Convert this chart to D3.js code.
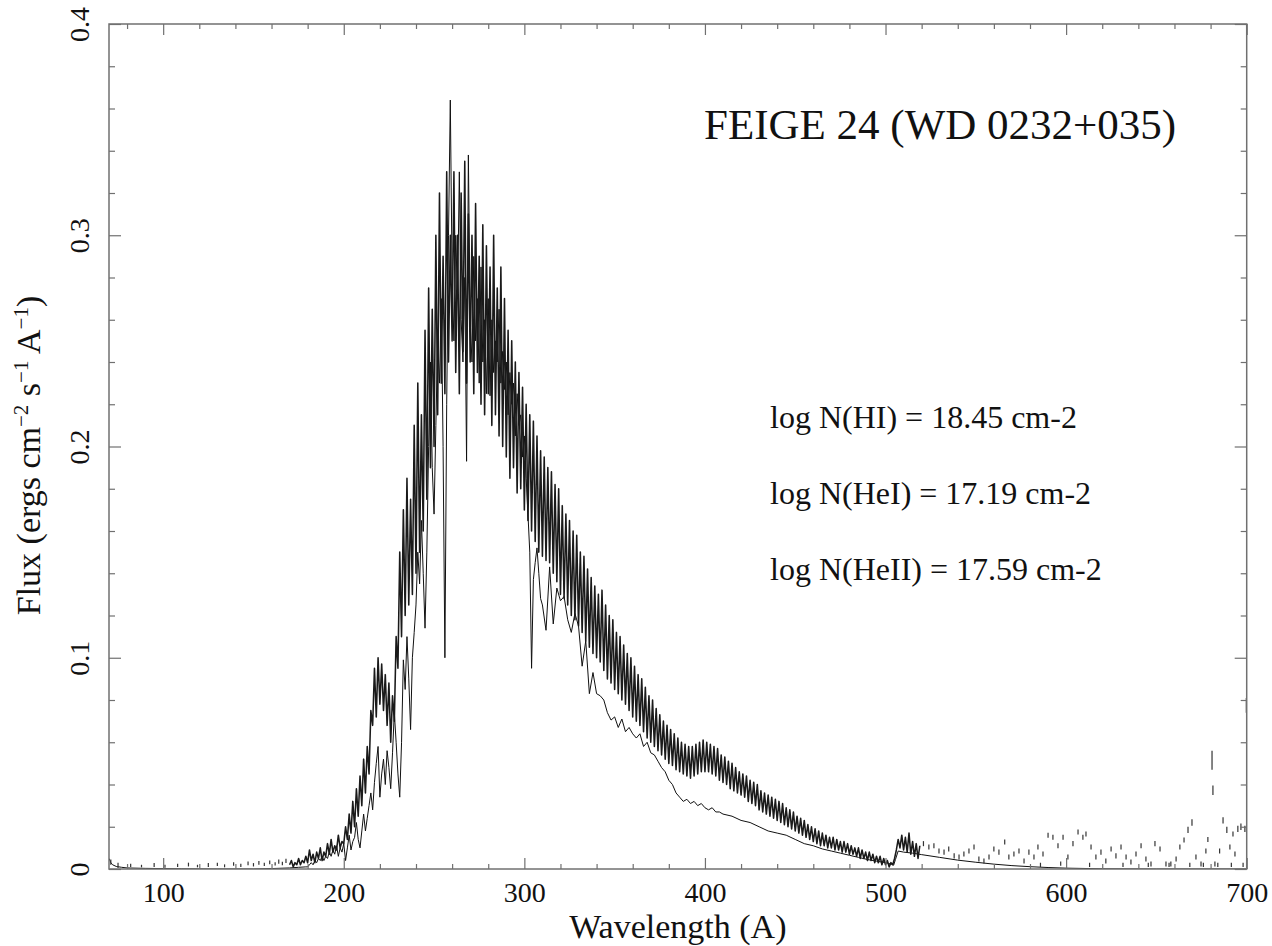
<!DOCTYPE html>
<html>
<head>
<meta charset="utf-8">
<script src="https://cdn.jsdelivr.net/npm/d3@7"></script>
<style>
  html, body { margin: 0; padding: 0; background: #fff; }
  svg { display: block; }
  text { font-family: "Liberation Serif", "Times New Roman", serif; fill: #111; }
</style>
</head>
<body>
<svg id="chart" width="1272" height="946"></svg>
<script>
// ---------------- data ----------------
const xDomain = [70, 700];
const yDomain = [0, 0.4];
const xMajorTicks = [100, 200, 300, 400, 500, 600, 700];
const xMinorTicks = [80,120,140,160,180,220,240,260,280,320,340,360,380,420,440,460,480,520,540,560,580,620,640,660,680];
const yMajorTicks = [0, 0.1, 0.2, 0.3, 0.4];
const yTickLabels = ["0", "0.1", "0.2", "0.3", "0.4"];
const yMinorTicks = [0.02,0.04,0.06,0.08,0.12,0.14,0.16,0.18,0.22,0.24,0.26,0.28,0.32,0.34,0.36,0.38];

const titleText = "FEIGE 24 (WD 0232+035)";
const annotations = ["log N(HI) = 18.45 cm-2", "log N(HeI) = 17.19 cm-2", "log N(HeII) = 17.59 cm-2"];

// observed EUVE spectrum, 1 A grid starting at 170 A
const obsStart = 170;
const obsFlux = [
0.002,0.004,0.001,0.003,0.002,0.005,0.002,0.004,0.003,0.006,
0.003,0.009,0.004,0.007,0.003,0.008,0.005,0.010,0.004,0.008,
0.006,0.012,0.007,0.014,0.008,0.011,0.009,0.016,0.010,0.013,
0.012,0.020,0.014,0.026,0.017,0.032,0.020,0.038,0.025,0.044,
0.030,0.052,0.036,0.058,0.045,0.075,0.068,0.095,0.072,0.100,
0.078,0.097,0.075,0.092,0.068,0.088,0.060,0.082,0.070,0.110,
0.095,0.150,0.110,0.170,0.120,0.185,0.125,0.175,0.130,0.210,
0.140,0.230,0.150,0.215,0.160,0.255,0.175,0.275,0.190,0.265,
0.200,0.300,0.215,0.320,0.230,0.290,0.225,0.330,0.240,0.300,
0.250,0.330,0.235,0.300,0.225,0.320,0.245,0.335,0.230,0.310,
0.240,0.300,0.225,0.315,0.235,0.290,0.220,0.305,0.215,0.295,
0.225,0.285,0.210,0.300,0.215,0.275,0.205,0.285,0.200,0.270,
0.195,0.255,0.185,0.250,0.190,0.240,0.178,0.235,0.180,0.228,
0.170,0.220,0.165,0.215,0.160,0.212,0.155,0.205,0.150,0.198,
0.148,0.195,0.146,0.190,0.145,0.188,0.140,0.182,0.136,0.180,
0.130,0.172,0.128,0.168,0.125,0.165,0.120,0.160,0.118,0.158,
0.115,0.150,0.112,0.148,0.108,0.142,0.105,0.138,0.102,0.134,
0.100,0.130,0.098,0.132,0.094,0.125,0.090,0.120,0.088,0.118,
0.085,0.112,0.083,0.110,0.080,0.106,0.078,0.102,0.075,0.100,
0.072,0.096,0.070,0.092,0.068,0.090,0.065,0.086,0.062,0.082,
0.060,0.080,0.058,0.076,0.056,0.073,0.054,0.070,0.052,0.068,
0.050,0.066,0.049,0.064,0.047,0.062,0.046,0.060,0.045,0.059,
0.044,0.058,0.043,0.058,0.044,0.059,0.045,0.060,0.046,0.061,
0.046,0.060,0.046,0.059,0.045,0.058,0.044,0.057,0.042,0.054,
0.041,0.053,0.040,0.051,0.038,0.050,0.037,0.048,0.036,0.046,
0.035,0.045,0.034,0.044,0.032,0.042,0.031,0.041,0.030,0.040,
0.028,0.037,0.027,0.036,0.026,0.035,0.025,0.034,0.024,0.033,
0.023,0.032,0.022,0.031,0.021,0.029,0.020,0.028,0.019,0.027,
0.018,0.025,0.017,0.024,0.016,0.023,0.015,0.021,0.014,0.020,
0.013,0.019,0.012,0.018,0.011,0.017,0.011,0.016,0.010,0.015,
0.010,0.015,0.009,0.014,0.009,0.013,0.008,0.013,0.008,0.012,
0.007,0.011,0.007,0.010,0.006,0.010,0.005,0.009,0.005,0.008,
0.004,0.008,0.004,0.007,0.003,0.006,0.003,0.006,0.002,0.005,
0.002,0.004,0.001,0.003,0.002,0.005,0.009,0.014,0.010,0.016,
0.009,0.015,0.008,0.017,0.007,0.013,0.006,0.012,0.005,0.011
];

// sparse observed points (drawn as short dashes): wavelength, low, high
const dashWave = [71,75,82,88,95,101,108,114,119,125,130,134,139,143,147,150,153,156,159,162,164,166,168,
  521,524,526.8,529.6,532.4,535,538,540.7,543.4,546.2,549,551.7,554.5,557.3,560,562.8,566,568.3,571.1,573.9,
  576.7,579.4,582.2,584.4,585.8,587.2,590,592.7,595.5,597,598.3,601,603.8,606.6,609.3,611,613,613.8,616.5,619.3,
  622,624.9,627.6,630.4,631.5,633.2,635.9,638.7,641.5,644.2,645.5,647,649.2,652,655.3,657,658,660.9,663,665.3,
  667.5,668.5,669.7,671.9,674.7,676,677.4,678.5,680.8,681.3,682.4,684,685,686.9,689,690.7,691.5,692.4,693.5,
  695.1,696.8,698,699,699.8];
const dashLo = [0.002,0.0005,0.001,0.0008,0.001,0.0006,0.001,0.0012,0.0008,0.001,0.0014,0.0008,0.0015,0.001,0.0018,0.0012,0.002,0.0014,0.0022,0.0016,0.0025,0.0018,0.0028,
  0.0108,0.0092,0.0098,0.0073,0.0068,0.0083,0.005,0.0045,0.0059,0.0073,0.0092,0.0035,0.0026,0.0045,0.0083,0.0068,0.0116,0.0045,0.0059,0.0073,
  0.0026,0.0068,0.0045,0.0092,0.001,0.0059,0.0148,0.0138,0.0098,0.0015,0.0138,0.0045,0.0108,0.0163,0.0138,0.0154,0.001,0.0092,0.0045,0.0068,
  0.0026,0.0083,0.005,0.0092,0.001,0.0045,0.0021,0.0059,0.0098,0.0035,0.001,0.0012,0.0108,0.0083,0.0012,0.001,0.0012,0.0035,0.0092,0.0125,
  0.017,0.001,0.0205,0.0045,0.0012,0.001,0.0073,0.0128,0.047,0.035,0.0012,0.001,0.0073,0.0215,0.017,0.0092,0.001,0.0154,0.0059,
  0.0175,0.0185,0.001,0.0175,0.074];
const dashHi = [0.0045,0.003,0.0025,0.002,0.0028,0.002,0.0025,0.003,0.002,0.0028,0.003,0.0022,0.0032,0.0025,0.0035,0.0028,0.0038,0.003,0.004,0.0032,0.0045,0.0034,0.0048,
  0.0132,0.0116,0.0122,0.0097,0.0092,0.0107,0.0074,0.0069,0.0083,0.0097,0.0116,0.0059,0.005,0.0069,0.0107,0.0092,0.014,0.0069,0.0083,0.0097,
  0.005,0.0092,0.0069,0.0116,0.003,0.0083,0.0172,0.0162,0.0122,0.0035,0.0162,0.0069,0.0132,0.0187,0.0162,0.0178,0.003,0.0116,0.0069,0.0092,
  0.005,0.0107,0.0074,0.0116,0.003,0.0069,0.0045,0.0083,0.0122,0.0059,0.003,0.0036,0.0132,0.0107,0.0036,0.003,0.0036,0.0059,0.0116,0.0149,
  0.02,0.003,0.0235,0.0069,0.0036,0.003,0.0097,0.0152,0.056,0.0395,0.0036,0.003,0.0097,0.0245,0.02,0.0116,0.003,0.0178,0.0083,
  0.0205,0.0215,0.003,0.0205,0.081];

// model spectrum (ISM absorbed)
const modelHeadWave = [70,71,72,74,77,80,90,110,130,150,160,170,175,179];
const modelHeadFlux = [0.005,0.003,0.002,0.0012,0.0008,0.0005,0.0003,0.0001,0,0,0.0002,0.0005,0.0008,0.001];
const modelGridStart = 180;
const modelGridFlux = [
0.001,0.002,0.003,0.002,0.004,0.003,0.005,0.004,0.006,0.004,
0.006,0.005,0.008,0.006,0.009,0.007,0.011,0.006,0.010,0.008,
0.012,0.004,0.010,0.016,0.009,0.013,0.015,0.022,0.014,0.010,
0.018,0.026,0.018,0.024,0.030,0.036,0.028,0.041,0.050,0.058,
0.034,0.045,0.052,0.040,0.056,0.048,0.038,0.055,0.074,0.060,
0.045,0.034,0.060,0.099,0.085,0.110,0.090,0.066,0.100,0.112,
0.125,0.150,0.135,0.165,0.140,0.114,0.150,0.200,0.240,0.190,
0.168,0.210,0.250,0.230,0.270,0.200,0.100,0.220,0.300,0.364,
0.280,0.250,0.300,0.270,0.330,0.260,0.240,0.280,0.193,0.338,
0.260,0.240,0.290,0.250,0.270,0.230,0.285,0.240,0.260,0.225,
0.270,0.224,0.260,0.235,0.250,0.240,0.265,0.230,0.245,0.227,
0.240,0.215,0.235,0.220,0.230,0.205,0.225,0.210,0.215,0.195,
0.205,0.185,0.168,0.150,0.095,0.137,0.145,0.152,0.140,0.128
];
const modelTailWave = [310,312,314,316,318,320,322,324,326,328,330,332,334,336,338,340,342,344,346,348,
  350,352,354,356,358,360,362,364,366,368,370,372,374,376,378,380,382,384,386,388,
  390,392,394,396,398,400,402,404,406,408,410,
  415,420,425,430,435,440,445,450,455,460,465,470,475,480,485,490,495,500,
  502,503.5,504.5,505.5,507,510,515,520,530,540,550,560,570,580,590,600,620,650,700];
const modelTailFlux = [0.125,0.113,0.143,0.116,0.133,0.127,0.129,0.118,0.112,0.121,0.115,0.096,0.108,0.083,0.093,0.083,0.082,0.080,0.074,0.0705,
  0.072,0.067,0.071,0.065,0.067,0.064,0.062,0.064,0.058,0.060,0.055,0.054,0.051,0.048,0.046,0.042,0.040,0.036,0.034,0.032,
  0.033,0.031,0.032,0.030,0.031,0.029,0.028,0.029,0.027,0.027,0.026,
  0.025,0.023,0.022,0.020,0.018,0.017,0.016,0.014,0.012,0.011,0.0095,0.0085,0.0075,0.0065,0.0055,0.0045,0.0037,0.003,
  0.0026,0.0022,0.0018,0.0045,0.0085,0.008,0.0075,0.0068,0.0055,0.0042,0.0032,0.0023,0.0016,0.0011,0.0007,0.0004,0.0001,0,0];

// ---------------- layout ----------------
const W = 1272, H = 946;
const margin = { left: 109, right: 25.3, top: 24, bottom: 77 };
const pw = W - margin.left - margin.right;
const ph = H - margin.top - margin.bottom;
const axisColor = "#707070";
const fontFamily = '"Liberation Serif", "Times New Roman", serif';

const svg = d3.select("#chart");
const g = svg.append("g").attr("transform", `translate(${margin.left},${margin.top})`);

const x = d3.scaleLinear().domain(xDomain).range([0, pw]);
const y = d3.scaleLinear().domain(yDomain).range([ph, 0]);

svg.append("defs").append("clipPath").attr("id", "clip")
  .append("rect").attr("x", 0).attr("y", -1).attr("width", pw).attr("height", ph + 1);

// build series
const obsData = obsFlux.map((f, i) => [obsStart + i, f]);
const modelData = modelHeadWave.map((w, i) => [w, modelHeadFlux[i]])
  .concat(modelGridFlux.map((f, i) => [modelGridStart + i, f]))
  .concat(modelTailWave.map((w, i) => [w, modelTailFlux[i]]));
const dashData = dashWave.map((w, i) => ({ w, lo: dashLo[i], hi: dashHi[i] }));

const line = d3.line().x(d => x(d[0])).y(d => y(d[1]));

const plot = g.append("g").attr("clip-path", "url(#clip)");

plot.append("path").datum(modelData)
  .attr("d", line).attr("fill", "none")
  .attr("stroke", "#111").attr("stroke-width", 1.0).attr("stroke-linejoin", "round");

plot.append("path").datum(obsData)
  .attr("d", line).attr("fill", "none")
  .attr("stroke", "#1a1a1a").attr("stroke-width", 1.55).attr("stroke-linejoin", "round");

plot.selectAll("line.dash").data(dashData).enter().append("line")
  .attr("class", "dash")
  .attr("x1", d => x(d.w)).attr("x2", d => x(d.w))
  .attr("y1", d => y(d.lo)).attr("y2", d => y(d.hi))
  .attr("stroke", "#333").attr("stroke-width", 1.2);

// ---------------- axes ----------------
function styleAxis(sel) {
  sel.select(".domain").remove();
  sel.selectAll(".tick line").attr("stroke", axisColor).attr("stroke-width", 1.2);
}

// bottom
const gb = g.append("g").attr("transform", `translate(0,${ph})`)
  .call(d3.axisBottom(x).tickValues(xMajorTicks).tickSize(-11).tickSizeOuter(0).tickFormat(d3.format("d")));
styleAxis(gb);
gb.attr("font-family", null).attr("font-size", null);
gb.selectAll(".tick text")
  .attr("y", 33).attr("dy", 0)
  .style("font-family", fontFamily).style("font-size", "28px").attr("fill", "#111");
g.append("g").attr("transform", `translate(0,${ph})`)
  .call(d3.axisBottom(x).tickValues(xMinorTicks).tickSize(-5).tickSizeOuter(0).tickFormat(""))
  .call(styleAxis);

// top
g.append("g").call(d3.axisTop(x).tickValues(xMajorTicks).tickSize(-11).tickSizeOuter(0).tickFormat("")).call(styleAxis);
g.append("g").call(d3.axisTop(x).tickValues(xMinorTicks).tickSize(-5).tickSizeOuter(0).tickFormat("")).call(styleAxis);

// left
const gl = g.append("g")
  .call(d3.axisLeft(y).tickValues(yMajorTicks).tickSize(-12).tickSizeOuter(0).tickFormat((d, i) => yTickLabels[i]));
styleAxis(gl);
gl.attr("font-family", null).attr("font-size", null);
gl.selectAll(".tick text")
  .attr("x", null).attr("dy", null)
  .attr("text-anchor", "middle")
  .attr("transform", "translate(-20,0) rotate(-90)")
  .style("font-family", fontFamily).style("font-size", "28px").attr("fill", "#111");
g.append("g").call(d3.axisLeft(y).tickValues(yMinorTicks).tickSize(-6).tickSizeOuter(0).tickFormat("")).call(styleAxis);

// right
g.append("g").attr("transform", `translate(${pw},0)`)
  .call(d3.axisRight(y).tickValues(yMajorTicks).tickSize(-12).tickSizeOuter(0).tickFormat("")).call(styleAxis);
g.append("g").attr("transform", `translate(${pw},0)`)
  .call(d3.axisRight(y).tickValues(yMinorTicks).tickSize(-6).tickSizeOuter(0).tickFormat("")).call(styleAxis);

// frame
g.append("rect").attr("x", 0).attr("y", 0).attr("width", pw).attr("height", ph)
  .attr("fill", "none").attr("stroke", axisColor).attr("stroke-width", 1.5);

// ---------------- labels ----------------
svg.append("text")
  .attr("x", margin.left + pw / 2).attr("y", 938)
  .attr("text-anchor", "middle")
  .style("font-size", "34px")
  .text("Wavelength (A)");

const yt = svg.append("text")
  .attr("transform", `translate(40,${margin.top + ph / 2 + 9}) rotate(-90)`)
  .attr("text-anchor", "middle")
  .style("font-size", "34px");
yt.append("tspan").text("Flux (ergs cm");
yt.append("tspan").attr("dy", -12).style("font-size", "21px").text("\u22122");
yt.append("tspan").attr("dy", 12).text(" s");
yt.append("tspan").attr("dy", -12).style("font-size", "21px").text("\u22121");
yt.append("tspan").attr("dy", 12).text(" A");
yt.append("tspan").attr("dy", -12).style("font-size", "21px").text("\u22121");
yt.append("tspan").attr("dy", 12).text(")");

svg.append("text")
  .attr("x", 704).attr("y", 139)
  .style("font-size", "43px")
  .text(titleText);

svg.selectAll("text.annot").data(annotations).enter().append("text")
  .attr("class", "annot")
  .attr("x", 770).attr("y", (d, i) => 428 + i * 76)
  .style("font-size", "32px")
  .text(d => d);
</script>
</body>
</html>
